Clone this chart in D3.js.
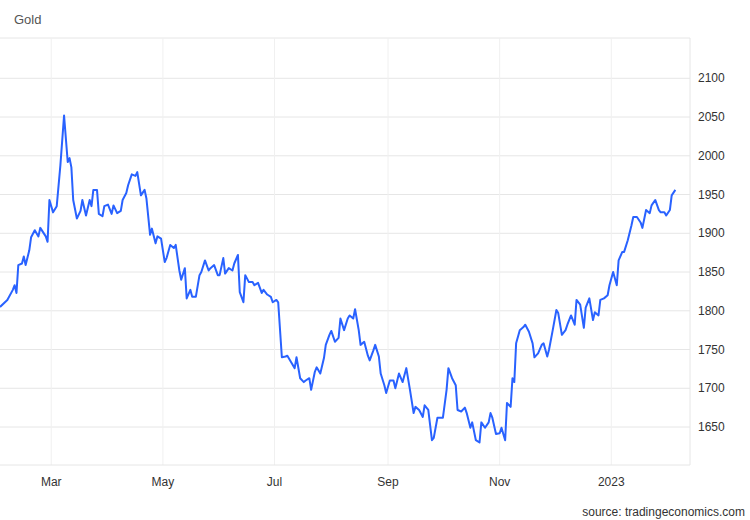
<!DOCTYPE html><html><head><meta charset="utf-8"><script src="https://cdn.jsdelivr.net/npm/d3@7"></script>
<style>body{margin:0;background:#fff;font-family:Arial,"Liberation Sans",sans-serif}</style></head><body><svg id="c" width="750" height="520"></svg>
<script>
const startDate = "2022-02-01";
const days = [0,4,7,8,9,10,12,13,14,16,17,19,21,22,25,26,27,29,31,33,35,37,38,39,40,42,44,45,47,49,50,51,53,54,56,57,59,61,62,64,66,67,69,70,72,74,75,77,79,80,82,83,85,86,88,90,91,93,95,96,98,99,101,102,104,105,107,109,110,112,114,115,117,119,120,122,123,125,127,128,130,131,133,134,136,138,139,141,143,144,146,148,149,151,152,154,156,157,159,161,162,164,166,167,169,170,172,173,175,177,178,180,181,183,185,186,188,190,191,193,194,196,197,199,201,202,204,205,207,208,210,211,213,215,216,218,220,221,222,224,226,227,229,231,232,234,236,237,239,240,242,244,245,247,249,250,252,254,255,257,258,260,262,263,265,267,268,269,271,273,274,276,277,279,280,281,282,284,286,287,289,291,292,294,296,297,299,300,302,304,305,307,309,310,312,314,315,317,319,320,322,324,325,327,328,330,332,333,335,337,338,340,341,343,345,346,348,350,351,353,355,356,358,360,361,363,364,366,367,369];
const prices = [1805,1814,1827,1833,1823,1859,1861,1870,1859,1878,1895,1904,1896,1907,1896,1889,1943,1927,1935,1988,2052,1992,1997,1985,1943,1919,1929,1943,1923,1943,1935,1956,1956,1925,1922,1935,1937,1925,1936,1926,1929,1943,1952,1962,1976,1974,1979,1949,1956,1945,1898,1906,1887,1896,1893,1863,1868,1885,1881,1885,1852,1840,1855,1816,1827,1818,1818,1846,1850,1865,1852,1855,1859,1846,1846,1868,1848,1855,1852,1861,1872,1824,1811,1846,1837,1837,1833,1836,1823,1827,1821,1818,1811,1814,1811,1740,1741,1742,1734,1726,1740,1713,1708,1710,1713,1698,1721,1727,1719,1739,1756,1769,1774,1760,1765,1790,1775,1790,1794,1790,1802,1775,1756,1760,1742,1736,1749,1756,1741,1719,1704,1694,1710,1710,1700,1719,1708,1717,1726,1698,1668,1676,1672,1663,1678,1672,1633,1636,1662,1662,1662,1698,1726,1713,1704,1672,1670,1675,1668,1649,1656,1633,1630,1656,1649,1656,1668,1662,1641,1642,1649,1633,1681,1676,1713,1708,1758,1775,1779,1782,1773,1758,1740,1745,1756,1758,1741,1750,1775,1801,1797,1769,1775,1782,1794,1782,1814,1808,1778,1804,1816,1788,1798,1794,1814,1816,1820,1833,1850,1833,1865,1876,1876,1891,1910,1921,1921,1914,1907,1930,1926,1936,1943,1930,1927,1927,1923,1930,1949,1956];
const yTicks = [1650,1700,1750,1800,1850,1900,1950,2000,2050,2100];
const xTickLabels = ["Mar","May","Jul","Sep","Nov","2023"];
const xTickDates = ["2022-03-01","2022-05-01","2022-07-01","2022-09-01","2022-11-01","2023-01-01"];

const svg=d3.select("#c");
const W=690, T=38, B=465;
const p=d3.timeParse("%Y-%m-%d");
const s0=p(startDate);
const dates=days.map(d=>d3.timeDay.offset(s0,d));
const x=d3.scaleTime().domain([s0,d3.timeDay.offset(s0,377)]).range([0,W]);
const y=d3.scaleLinear().domain([1601,2152]).range([B,T]);
const g=svg.append("g");
g.selectAll(".hg").data(yTicks).join("line").attr("x1",0).attr("x2",W).attr("y1",d=>y(d)).attr("y2",d=>y(d)).attr("stroke","#e6e6e6");
g.append("line").attr("x1",0).attr("x2",W).attr("y1",T).attr("y2",T).attr("stroke","#e6e6e6");
g.selectAll(".vg").data(xTickDates).join("line").attr("x1",d=>x(p(d))).attr("x2",d=>x(p(d))).attr("y1",T).attr("y2",B).attr("stroke","#f0f0f0");
g.append("line").attr("x1",W).attr("x2",W).attr("y1",T).attr("y2",B).attr("stroke","#e6e6e6");
g.append("line").attr("x1",0).attr("x2",W).attr("y1",B).attr("y2",B).attr("stroke","#e6e6e6");
g.selectAll(".yl").data(yTicks).join("text").attr("x",W+8).attr("y",d=>y(d)+4).text(d=>d).attr("font-size",12).attr("fill","#333");
g.selectAll(".xl").data(xTickDates).join("text").attr("x",(d)=>x(p(d))).attr("y",B+21).attr("text-anchor","middle").text((d,i)=>xTickLabels[i]).attr("font-size",12).attr("fill","#333");
g.append("path").datum(prices).attr("fill","none").attr("stroke","#2962ff").attr("stroke-width",2).attr("stroke-linejoin","round")
 .attr("d",d3.line().x((d,i)=>x(dates[i])).y(d=>y(d)));
svg.append("text").attr("x",14).attr("y",24).text("Gold").attr("font-size",13).attr("fill","#555");
svg.append("text").attr("x",745).attr("y",516).attr("text-anchor","end").text("source: tradingeconomics.com").attr("font-size",12).attr("fill","#333");
</script></body></html>
